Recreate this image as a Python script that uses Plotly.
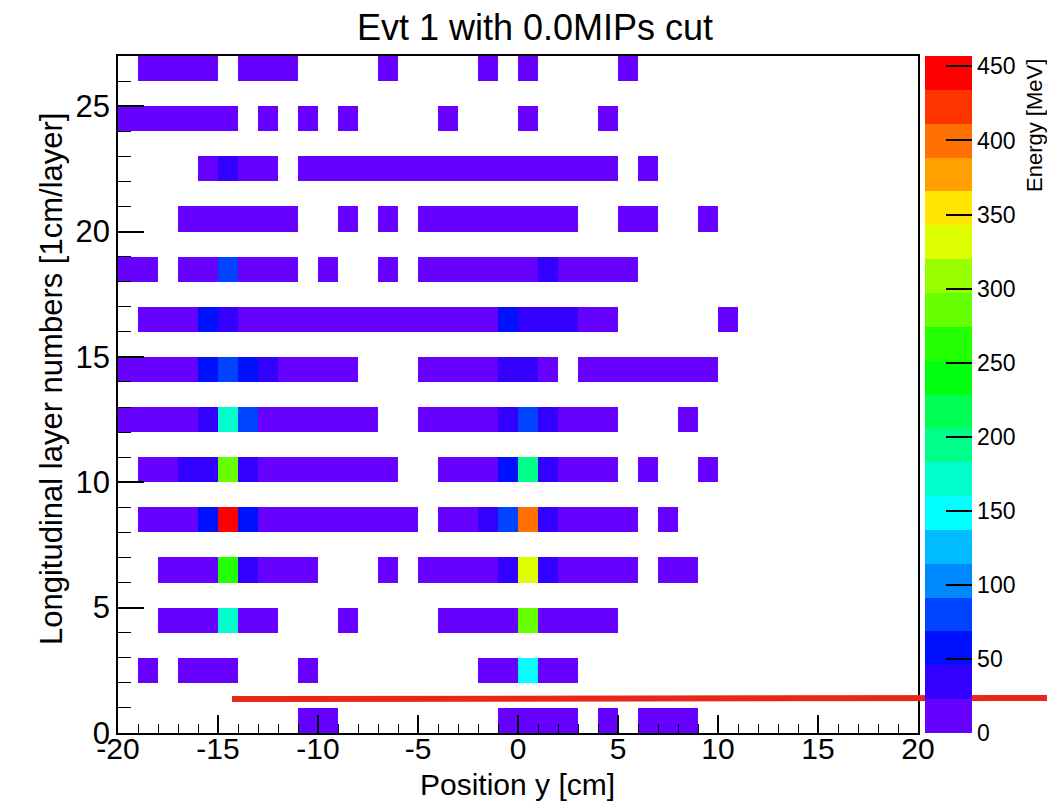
import plotly.graph_objects as go

# ---------------- data ----------------
# Energy deposits per longitudinal layer: (y_low [cm], y_high [cm], energy [MeV]) runs of 1 cm bins
layer_0 = [(-11, -9, 9), (-1, 3, 9), (4, 5, 9), (6, 9, 9)]
layer_2 = [(-19, -18, 9), (-17, -14, 9), (-11, -10, 9), (-2, 0, 9), (0, 1, 150), (1, 3, 9)]
layer_4 = [(-18, -15, 9), (-15, -14, 172), (-14, -12, 9), (-9, -8, 9), (-4, 0, 9),
           (0, 1, 286), (1, 5, 9)]
layer_6 = [(-18, -15, 9), (-15, -14, 262), (-14, -13, 34), (-13, -10, 9), (-7, -6, 9),
           (-5, -1, 9), (-1, 0, 34), (0, 1, 331), (1, 2, 34), (2, 6, 9), (7, 9, 9)]
layer_8 = [(-19, -16, 9), (-16, -15, 57), (-15, -14, 457), (-14, -13, 57), (-13, -5, 9),
           (-4, -2, 9), (-2, -1, 34), (-1, 0, 80), (0, 1, 400), (1, 2, 34), (2, 6, 9), (7, 8, 9)]
layer_10 = [(-19, -17, 9), (-17, -15, 34), (-15, -14, 286), (-14, -13, 34), (-13, -6, 9),
            (-4, -1, 9), (-1, 0, 57), (0, 1, 194), (1, 2, 34), (2, 5, 9), (6, 7, 9), (9, 10, 9)]
layer_12 = [(-20, -16, 9), (-16, -15, 34), (-15, -14, 172), (-14, -13, 80), (-13, -7, 9),
            (-5, -1, 9), (-1, 0, 34), (0, 1, 80), (1, 2, 34), (2, 5, 9), (8, 9, 9)]
layer_14 = [(-20, -16, 9), (-16, -15, 57), (-15, -14, 80), (-14, -13, 57), (-13, -12, 34),
            (-12, -8, 9), (-5, -1, 9), (-1, 1, 34), (1, 2, 9), (3, 10, 9)]
layer_16 = [(-19, -16, 9), (-16, -15, 57), (-15, -14, 34), (-14, -1, 9), (-1, 0, 57),
            (0, 3, 34), (3, 5, 9), (10, 11, 9)]
layer_18 = [(-20, -18, 9), (-17, -15, 9), (-15, -14, 80), (-14, -11, 9), (-10, -9, 9),
            (-7, -6, 9), (-5, 1, 9), (1, 2, 34), (2, 6, 9)]
layer_20 = [(-17, -11, 9), (-9, -8, 9), (-7, -6, 9), (-5, 3, 9), (5, 7, 9), (9, 10, 9)]
layer_22 = [(-16, -15, 9), (-15, -14, 34), (-14, -12, 9), (-11, 5, 9), (6, 7, 9)]
layer_24 = [(-20, -14, 9), (-13, -12, 9), (-11, -10, 9), (-9, -8, 9), (-4, -3, 9),
            (0, 1, 9), (4, 5, 9)]
layer_26 = [(-19, -15, 9), (-14, -11, 9), (-7, -6, 9), (-2, -1, 9), (0, 1, 9), (5, 6, 9)]

layers = {0: layer_0, 2: layer_2, 4: layer_4, 6: layer_6, 8: layer_8, 10: layer_10,
          12: layer_12, 14: layer_14, 16: layer_16, 18: layer_18, 20: layer_20,
          22: layer_22, 24: layer_24, 26: layer_26}

y_bin_lo = list(range(-20, 20))      # position y bins [cm]
layer_bins = list(range(0, 27))      # layer bins
x_tick_vals = [-20, -15, -10, -5, 0, 5, 10, 15, 20]
x_tick_text = ["-20", "-15", "-10", "-5", "0", "5", "10", "15", "20"]
y_tick_vals = [0, 5, 10, 15, 20, 25]
z_tick_vals = [0, 50, 100, 150, 200, 250, 300, 350, 400, 450]
z_max = 457

palette = ["#6600FF", "#3300FF", "#0011FF", "#0044FF", "#0088FF", "#00BBFF", "#00FFFF",
           "#00FFCC", "#00FF88", "#00FF55", "#00FF11", "#22FF00", "#66FF00", "#99FF00",
           "#DDFF00", "#FFE600", "#FFA000", "#FF7000", "#FF3300", "#FF0000"]

# ---------------- build grid ----------------
z = [[None] * len(y_bin_lo) for _ in layer_bins]
for L, segs in layers.items():
    for lo, hi, e in segs:
        for b in range(lo, hi):
            z[L][y_bin_lo.index(b)] = e

xc = [b + 0.5 for b in y_bin_lo]
yc = [l + 0.5 for l in layer_bins]

n = len(palette)
cscale = []
for i, c in enumerate(palette):
    cscale.append([i / n, c])
    cscale.append([(i + 1) / n, c])

# ---------------- layout geometry (pixels) ----------------
W, H = 1047, 807
L_PX, R_PX, T_PX, B_PX = 118, 918, 56, 733
pw, ph = R_PX - L_PX, B_PX - T_PX


def px(x):
    return (x - L_PX) / pw


def py(y):
    return (B_PX - y) / ph


FONT = "Liberation Sans, Arial, Helvetica, sans-serif"

fig = go.Figure()
fig.add_trace(go.Heatmap(
    x=xc, y=yc, z=z, zmin=0, zmax=z_max, colorscale=cscale, zsmooth=False,
    hoverongaps=False,
    colorbar=dict(
        x=px(924.5), xanchor="left", xpad=0, y=0.5, yanchor="middle", ypad=0,
        len=1, lenmode="fraction", thickness=47, thicknessmode="pixels",
        outlinewidth=0, tickvals=z_tick_vals, ticks="inside", ticklen=26,
        tickwidth=1.5, tickcolor="black",
        tickfont=dict(family=FONT, size=23, color="black"),
    ),
))

fig.update_xaxes(
    range=[-20, 20], tickvals=x_tick_vals, ticktext=x_tick_text, ticks="inside",
    ticklen=18, tickwidth=1.5, ticklabelstandoff=-12,
    tickcolor="black", minor=dict(ticks="inside", ticklen=9, dtick=1, tickwidth=1.2,
                                  tickcolor="black"),
    showline=True, linecolor="black", linewidth=1.5, mirror=True, showgrid=False,
    zeroline=False, tickfont=dict(family=FONT, size=30, color="black"),
)
fig.update_yaxes(
    range=[0, 27], tickvals=y_tick_vals, ticks="inside", ticklen=26, tickwidth=1.5,
    tickcolor="black", minor=dict(ticks="inside", ticklen=13, dtick=1, tickwidth=1.2,
                                  tickcolor="black"),
    showline=True, linecolor="black", linewidth=1.5, mirror=True, showgrid=False,
    zeroline=False, tickfont=dict(family=FONT, size=31, color="black"),
)

fig.update_layout(
    width=W, height=H,
    margin=dict(l=L_PX, r=W - R_PX, t=T_PX, b=H - B_PX, pad=0, autoexpand=False),
    paper_bgcolor="white", plot_bgcolor="white",
    title=dict(text="Evt 1 with 0.0MIPs cut", x=535 / W, xanchor="center",
               y=1 - 27 / H, yanchor="middle", xref="container", yref="container",
               font=dict(family=FONT, size=36, color="black")),
    annotations=[
        dict(text="Position y [cm]", xref="paper", yref="paper", x=px(517.5), y=py(784),
             xanchor="center", yanchor="middle", showarrow=False,
             font=dict(family=FONT, size=30, color="black")),
        dict(text="Longitudinal layer numbers [1cm/layer]", xref="paper", yref="paper",
             x=px(52), y=py(379), xanchor="center", yanchor="middle", textangle=-90,
             showarrow=False, font=dict(family=FONT, size=31, color="black")),
        dict(text="Energy [MeV]", xref="paper", yref="paper", x=px(1034), y=py(126),
             xanchor="center", yanchor="middle", textangle=-90, showarrow=False,
             font=dict(family=FONT, size=22, color="black")),
    ],
    shapes=[
        dict(type="line", xref="paper", yref="paper", x0=px(232), y0=py(699),
             x1=px(1047), y1=py(698), line=dict(color="#E8261A", width=6), layer="above"),
    ],
    showlegend=False,
)

fig.write_html("out.html")
